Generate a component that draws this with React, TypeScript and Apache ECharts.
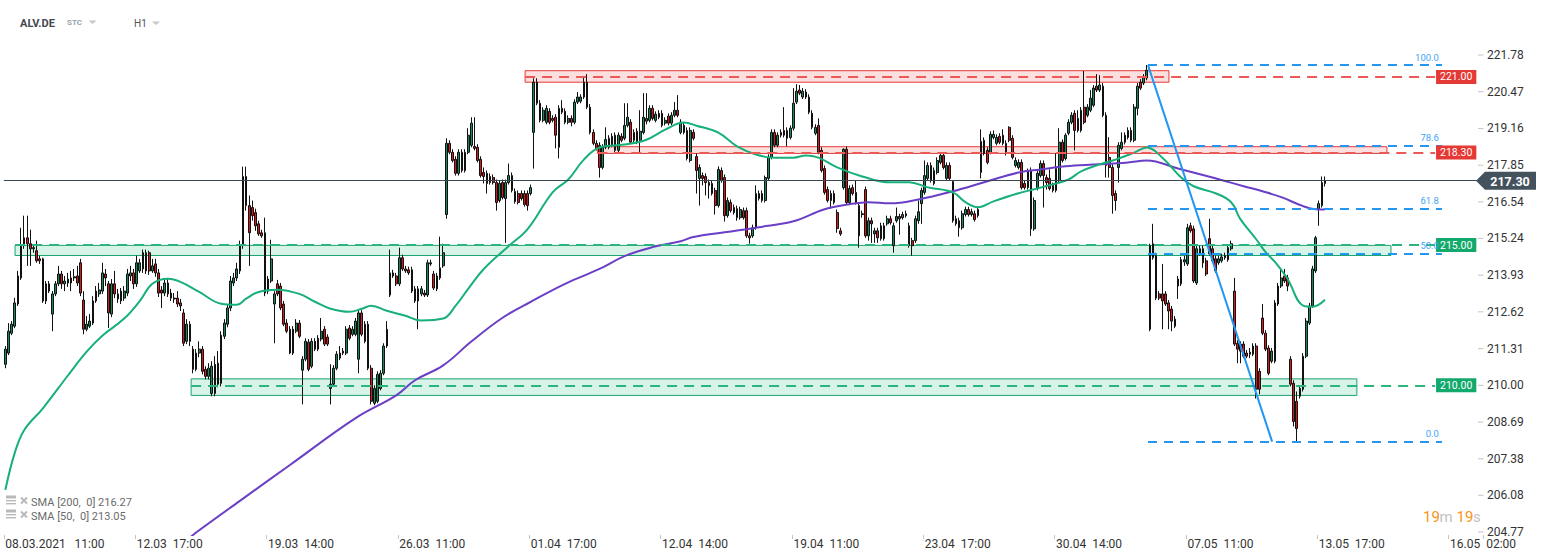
import React, { useEffect, useRef } from 'react';
import * as echarts from 'echarts';

const FONT = 'Roboto, "Liberation Sans", Arial, sans-serif';

// ---- hourly candles [open, close, low, high] (05.03 10:00 -> 13.05 09:00) ----
const ohlc1 = [
  [210.75,211.29,210.61,211.40],[211.15,211.93,211.08,212.22],[211.86,212.18,211.79,212.29],[212.11,212.94,212.04,213.12],
  [212.90,213.90,212.83,214.08],[213.83,214.98,213.76,215.62],[214.98,215.26,214.87,216.05],[215.26,215.05,214.26,216.05],
  [215.05,214.87,214.26,215.55],[214.87,214.91,214.73,215.01],[214.80,214.44,214.37,215.16],[214.51,214.44,214.33,214.62],
  [214.51,213.01,212.94,214.55],[213.01,213.62,212.90,213.72],[213.36,213.62,213.29,213.72],[212.54,213.26,211.93,213.36],
  [213.26,213.62,213.18,213.72],[213.62,213.97,213.54,214.26],[213.97,213.62,213.44,214.08],[213.62,213.72,213.36,213.90],
  [213.65,213.79,213.51,214.01],[213.65,213.83,213.36,214.08],[213.83,213.87,213.72,214.15],[213.90,213.65,213.54,214.26],
  [214.37,213.29,213.18,214.51],[213.04,212.00,211.82,213.36],[212.00,212.18,211.93,212.47],[212.11,212.29,212.04,212.54],
  [212.22,213.01,212.15,213.18],[213.01,213.36,212.94,213.54],[213.26,213.40,213.15,213.65],[213.36,214.01,213.26,214.37],
  [213.97,213.83,213.54,214.15],[213.62,212.58,212.04,213.72],[212.54,213.62,212.43,213.79],[213.62,213.26,213.11,214.08],
  [213.26,213.08,212.94,213.44],[213.01,213.36,212.90,213.47],[213.11,213.36,213.01,213.54],[213.29,213.97,213.18,214.15],
  [213.90,214.01,213.72,214.26],[214.01,213.62,213.44,214.15],[213.62,214.37,213.51,214.62],[214.08,214.37,214.01,214.51],
  [214.73,214.15,214.01,214.84],[214.08,214.73,213.97,214.84],[214.73,214.08,213.94,214.80],[214.08,214.26,214.01,214.51],
  [214.33,214.01,213.87,214.51],[214.01,213.29,213.15,214.15],[213.40,213.29,212.76,213.54],[213.29,213.65,213.18,213.79],
  [213.65,213.26,213.15,213.79],[213.29,213.11,213.01,213.44],[213.11,213.08,212.94,213.29],[213.11,212.90,212.79,213.36],
  [212.94,212.83,212.65,213.08],[212.58,211.50,211.40,212.72],[211.57,212.18,211.47,212.36],[212.18,211.57,211.40,212.29],
  [211.29,210.57,210.43,211.40],[210.57,211.15,210.50,211.29],[211.15,211.29,211.00,211.57],[211.29,210.50,210.39,211.40],
  [210.57,210.32,210.21,210.68],[210.32,210.61,210.21,210.79],[209.71,210.68,209.61,210.86],[209.71,210.75,209.61,211.04],
  [210.04,210.79,209.93,211.22],[210.07,211.79,209.96,211.93],[211.75,212.22,211.65,212.36],[212.18,212.76,212.07,212.90],
  [212.76,213.72,212.65,213.90],[213.65,213.83,213.54,214.01],[213.83,214.15,213.72,214.37],[214.08,214.98,213.97,215.16],
  [214.98,217.45,214.87,217.80],[217.45,216.41,216.23,217.80],[216.41,215.44,214.26,216.77],[216.34,216.05,215.87,216.59],
  [216.16,215.69,215.51,216.30],
];
const ohlc2 = [
  [215.76,215.40,215.33,215.87],[215.44,215.33,215.26,215.55],[215.44,213.29,213.18,215.98],[213.79,213.36,213.26,213.90],
  [213.72,214.51,213.65,215.19],[212.90,213.26,211.50,213.36],[213.62,213.26,213.18,213.76],[213.54,212.76,212.68,213.65],
  [212.90,212.18,212.11,213.01],[212.22,211.93,211.86,212.36],[212.00,211.15,211.11,212.11],[211.15,212.00,211.08,212.11],
  [211.93,212.22,211.86,212.36],[212.22,211.75,211.68,212.33],[210.54,210.93,209.32,211.04],[210.93,211.57,210.86,211.68],
  [211.54,210.57,210.50,211.65],[210.68,211.57,210.61,211.68],[211.57,211.29,211.22,211.68],[211.29,211.68,211.22,211.79],
  [211.65,211.93,211.57,212.40],[212.00,211.47,211.40,212.11],[211.72,211.47,211.40,211.82],[209.89,210.04,209.32,210.75],
  [210.04,210.61,209.96,210.72],[210.61,211.11,210.54,211.22],[210.97,211.15,210.90,211.40],[211.15,211.22,211.08,211.33],
  [211.15,212.00,211.08,212.11],[212.04,211.68,211.61,212.15],[211.82,212.00,211.75,212.11],[211.82,212.29,211.75,212.40],
  [210.93,212.58,210.43,212.68],[212.58,211.82,211.75,212.68],[211.57,212.18,211.50,212.29],[212.18,210.61,210.54,212.29],
  [210.61,209.43,209.32,210.72],[209.36,209.89,209.29,210.00],[209.43,210.39,209.36,210.50],[209.89,210.43,209.82,210.54],
  [210.43,211.40,210.36,211.50],[211.40,212.00,211.33,212.29],[213.22,214.01,213.15,214.84],[213.90,214.01,213.83,214.12],
  [213.90,213.62,213.54,214.01],[213.62,214.55,213.54,214.91],[214.55,214.15,214.08,214.66],[214.15,214.08,214.01,214.26],
  [214.12,214.01,213.94,214.23],[214.12,213.36,213.29,214.23],[213.01,213.44,212.94,213.54],[213.44,213.01,212.00,213.54],
  [213.26,213.44,213.18,213.54],[213.29,213.22,213.15,213.40],[213.22,214.37,213.15,214.48],[214.33,214.37,214.26,214.48],
  [213.97,213.47,213.40,214.08],[213.90,213.44,213.36,214.01],[213.83,214.19,213.76,215.30],[214.26,214.73,214.19,215.05],
];
const ohlc3 = [
  [216.09,218.63,215.94,218.81],[218.63,218.31,218.24,218.74],[218.31,218.02,217.95,218.42],[218.06,217.56,217.48,218.17],
  [217.56,218.31,217.48,218.42],[218.31,217.66,217.59,218.42],[217.66,218.31,217.59,218.42],[218.31,218.92,218.24,219.17],
  [218.56,219.35,218.49,219.56],[218.52,218.45,218.38,219.56],[218.49,218.02,217.95,218.60],[218.06,217.48,217.41,218.17],
  [217.59,217.45,217.20,217.77],[217.56,217.20,216.84,217.66],[217.23,217.45,217.16,217.56],[217.41,217.23,217.16,217.52],
  [217.23,216.52,216.23,217.34],[216.59,217.20,216.52,217.30],[217.23,216.70,216.63,217.34],[216.66,217.23,215.08,217.34],
  [217.23,217.48,217.16,217.91],[217.48,216.95,216.88,217.59],[216.91,216.55,216.48,217.02],[216.84,216.52,216.45,216.95],
  [216.84,216.66,216.59,216.95],[216.84,216.45,216.37,216.95],[216.84,216.41,216.23,216.95],[216.84,217.05,216.77,217.16],
  [219.02,220.81,217.73,220.95],[220.81,220.06,219.99,220.95],[220.06,219.45,219.38,220.17],[219.45,219.81,219.38,219.92],
  [219.38,219.88,219.31,219.99],[219.77,219.38,219.31,219.88],[219.52,219.45,219.38,219.63],[219.56,218.92,218.45,219.67],
  [218.49,219.88,218.09,219.99],[219.88,219.74,219.67,220.17],[219.77,219.38,219.31,219.88],[219.38,219.52,219.31,219.63],
  [219.52,219.38,219.24,219.63],[219.38,220.10,219.31,220.20],[220.10,220.28,220.03,220.46],[220.13,220.28,220.06,220.38],
  [220.28,220.81,220.21,221.03],[220.81,219.92,219.85,221.10],
];
const ohlc4 = [
  [219.92,219.02,218.95,220.03],[219.02,218.63,218.56,219.13],[218.63,218.45,218.38,218.74],[218.56,217.77,217.41,218.67],
  [217.77,218.49,217.70,218.60],[218.49,218.77,218.42,219.20],[218.49,218.81,218.42,218.92],[218.56,218.88,218.49,218.99],
  [218.92,218.38,218.31,219.02],[218.38,218.92,218.31,219.02],[218.88,218.74,218.67,218.99],[218.81,219.27,218.74,220.06],
  [219.27,219.56,219.20,220.06],[219.38,218.67,218.60,219.49],[218.74,219.02,218.67,219.13],[219.06,218.67,218.60,219.17],
  [218.74,219.06,218.31,219.81],[219.02,219.56,218.95,220.42],[219.42,219.52,219.31,220.42],[219.45,219.88,219.38,219.99],
  [219.88,219.52,219.45,219.99],[219.45,219.67,219.38,219.77],[219.56,219.70,219.49,219.81],[219.70,219.27,219.20,219.81],
  [219.35,219.45,219.27,219.56],[219.60,219.35,219.27,219.70],[219.35,219.63,219.27,219.74],[219.63,219.81,219.56,220.10],
  [219.81,219.63,219.56,220.35],[219.02,219.38,218.95,219.49],[219.27,219.02,218.95,219.38],[219.09,218.09,218.02,219.20],
  [218.02,219.09,217.95,219.20],[219.02,218.81,218.74,219.13],[218.16,217.66,216.84,218.27],[217.38,217.77,216.41,217.88],
  [217.48,217.38,217.13,217.59],[217.45,217.23,216.77,217.56],[217.23,217.13,216.66,217.34],[217.20,216.84,216.77,217.30],
  [216.95,216.41,216.09,217.05],[216.41,217.70,216.34,217.81],[217.66,217.30,217.23,217.77],[217.41,216.05,215.84,217.52],
  [216.05,216.59,215.98,216.70],[216.52,216.23,216.16,216.63],[216.16,216.34,216.09,216.45],[216.30,215.98,215.87,216.41],
  [215.98,216.27,215.91,216.37],[216.23,215.98,215.91,216.34],[216.23,215.33,215.26,216.34],[215.33,215.26,215.05,215.44],
  [215.33,215.62,215.26,215.73],[215.62,216.84,215.55,217.13],[216.66,216.84,216.59,216.95],[216.84,216.59,216.52,216.95],
  [216.59,217.41,216.52,217.48],[217.38,218.13,217.30,218.24],[218.13,219.02,218.06,219.13],[219.02,218.56,218.49,219.13],
  [218.56,218.92,218.49,219.02],[218.92,219.02,218.84,219.13],[219.09,218.92,218.84,219.92],[219.09,218.81,218.52,219.20],
  [218.84,219.17,218.77,219.27],[219.17,220.06,219.09,220.60],[220.10,220.49,220.03,220.74],
];
const ohlc5 = [
  [220.53,220.42,220.35,220.71],[220.28,220.49,220.21,220.60],[220.46,220.28,220.21,220.56],[220.28,219.74,219.67,220.38],
  [219.70,219.20,219.13,219.81],[218.99,219.20,218.92,219.31],[219.27,218.31,218.24,219.52],[218.38,217.66,217.59,218.49],
  [217.73,216.88,216.80,217.84],[216.98,216.59,216.52,217.09],[216.59,216.84,216.30,216.95],[216.84,216.52,216.45,216.95],
  [216.16,215.59,215.44,216.27],[215.51,215.40,215.33,215.62],[217.05,218.42,216.98,218.45],
  [218.42,216.52,216.45,218.52],[216.52,217.02,216.45,217.13],[217.05,216.84,216.77,217.16],[216.88,216.52,216.45,217.30],
  [216.41,215.33,214.91,216.52],[216.12,216.09,215.98,216.23],[216.98,215.33,215.26,217.09],[215.33,215.87,215.16,215.98],
  [215.87,215.76,215.08,215.98],[215.40,215.51,215.08,215.62],[215.51,215.26,215.08,215.62],[215.23,215.69,215.16,215.80],
  [215.69,215.23,215.16,215.80],[215.76,215.94,215.69,216.05],[215.94,215.80,215.73,216.05],[214.98,215.69,214.73,215.80],
  [215.87,216.02,215.80,216.34],[216.02,215.94,215.37,216.12],[215.98,216.09,215.91,216.19],[216.12,216.05,215.98,216.23],
  [215.69,214.98,214.91,215.80],[215.16,214.98,214.62,215.26],[215.16,215.94,215.08,216.05],[215.87,216.19,215.76,216.59],
  [216.48,216.95,215.76,217.05],[216.88,217.48,216.80,218.02],[217.38,217.84,217.30,217.95],[217.84,217.30,217.23,217.95],
  [217.66,217.20,217.13,217.77],[217.59,218.02,217.52,218.13],[217.95,218.20,217.88,218.31],[218.20,217.77,217.70,218.31],
  [217.38,217.84,217.30,217.95],[217.84,217.38,217.30,217.95],[217.27,215.87,215.80,217.30],[215.94,215.76,215.69,216.05],
  [215.87,215.62,215.30,215.98],[215.62,216.12,215.55,216.23],[216.09,216.27,216.02,216.37],[216.27,216.09,216.02,216.37],
  [216.09,216.19,216.02,216.30],[216.12,215.91,215.84,216.23],[216.05,216.27,215.98,216.37],
];
const ohlc6 = [
  [217.59,218.70,217.38,219.13],[218.74,218.27,218.20,218.84],[218.38,217.95,217.88,218.49],[218.31,218.95,218.24,219.06],
  [218.84,218.95,218.77,219.09],[218.63,218.84,218.56,218.95],[218.88,218.67,218.60,218.99],[218.63,218.92,218.56,219.13],
  [218.63,218.27,218.20,218.74],[219.20,218.74,218.67,219.24],[218.81,218.13,218.06,218.92],[217.84,218.02,217.77,218.13],
  [217.77,217.95,217.70,218.06],[217.95,217.05,216.98,218.06],[217.20,217.05,216.98,217.30],[217.05,217.66,216.98,217.73],
  [217.66,215.58,215.33,217.77],
  [215.58,216.59,215.51,216.70],[217.02,217.56,216.95,217.66],[217.48,217.91,217.41,218.02],[217.91,217.48,216.34,218.02],
  [217.41,217.23,216.98,217.52],[217.38,217.02,216.95,217.70],[217.13,216.95,216.88,217.23],[216.95,217.73,216.88,218.27],
  [217.30,218.67,217.23,219.17],[218.67,218.02,217.95,218.77],[218.09,218.92,218.02,218.99],[218.99,219.38,218.92,219.49],
  [219.38,219.63,219.31,219.74],[219.70,219.09,218.38,219.81],[219.09,219.52,219.02,219.81],[219.09,219.81,219.02,219.92],
  [219.92,219.38,219.31,221.21],[219.63,219.92,219.56,220.03],[219.81,220.24,219.74,220.53],[219.99,220.60,219.92,220.71],
  [220.67,220.53,220.46,221.10],[220.53,220.71,220.46,221.06],[220.67,219.63,219.56,220.78],[219.63,217.84,217.41,219.74],
  [218.13,217.77,217.41,218.85],[217.77,216.77,216.12,217.88],[216.84,216.59,216.23,216.95],[217.77,218.56,217.23,218.67],
  [218.45,218.67,218.38,219.02],[218.67,218.92,218.59,219.02],[218.84,219.09,218.77,219.20],[219.09,218.74,218.67,219.20],
  [218.74,219.92,218.67,220.03],[219.88,220.67,219.63,220.78],[220.81,220.60,220.53,220.92],[220.78,220.99,220.71,221.10],
  [220.96,221.24,220.88,221.42],
];
const ohlc7 = [
  [212.00,214.98,211.93,215.05],[215.05,214.55,214.48,215.76],[214.62,213.11,213.04,214.73],[213.26,213.11,213.04,213.36],
  [213.26,213.01,212.00,214.33],[213.26,212.90,212.83,213.36],[212.94,212.65,212.00,213.04],[212.72,212.29,211.93,212.83],
  [212.36,212.11,212.04,212.47],[213.79,213.54,213.08,213.90],[213.62,214.48,213.54,214.58],[214.40,214.48,214.26,214.62],
  [214.33,215.62,214.26,215.76],[215.69,215.51,215.44,215.80],[215.58,213.72,213.65,215.69],[213.65,214.87,213.58,214.98],
  [214.69,214.87,214.62,214.98],[214.87,214.37,214.19,214.98],[214.44,213.97,213.90,214.55],[215.23,214.69,214.62,215.94],
  [214.87,214.44,214.37,214.98],[214.51,214.08,214.01,214.62],[214.37,214.51,214.30,214.62],[214.44,214.58,214.37,214.69],
  [214.55,214.62,214.48,214.73],[214.48,214.91,214.41,215.01],[214.87,215.05,214.80,215.16],
  [213.36,211.47,211.40,213.83],[211.50,211.29,210.79,211.61],[211.47,211.22,210.79,211.57],[211.47,211.04,210.97,211.57],
  [211.15,211.04,210.97,211.26],[211.11,211.18,210.97,211.33],[211.11,211.40,211.04,211.50],[211.40,209.86,209.53,211.50],
  [210.50,209.86,209.68,210.61],[212.40,211.86,211.79,212.90],[211.86,211.29,211.22,211.97],[211.33,210.43,210.36,211.43],
  [210.86,211.22,210.79,211.33],[210.86,212.94,210.79,213.04],[212.90,213.54,212.83,213.65],[213.54,213.83,213.47,214.19],
  [213.90,213.72,213.65,214.15],[213.83,213.54,213.36,213.94],[210.93,210.04,209.96,211.04],[210.07,208.71,208.53,210.18],
  [209.43,208.46,207.99,209.78],[209.61,209.89,209.53,210.00],[209.86,211.04,209.78,211.15],[211.04,212.29,210.97,212.40],
  [212.22,212.83,212.15,212.94],[212.83,214.15,212.76,214.26],[214.08,215.26,214.01,215.33],[216.30,216.48,215.69,216.59],
  [216.41,217.23,216.34,217.45],[217.20,217.30,217.09,217.45],
];
const candles = [...ohlc1, ...ohlc2, ...ohlc3, ...ohlc4, ...ohlc5, ...ohlc6, ...ohlc7];

// ---- moving averages, [candle index, value] ----
const sma50 = [
  [0,206.27],[3,207.59],[6,208.40],[12,209.18],[20,210.35],[26,211.20],[31,211.77],[38,212.38],[43,213.01],[47,213.62],
  [52,213.80],[56,213.69],[62,213.33],[69,212.91],[74,212.87],[77,213.09],[81,213.33],[87,213.41],[94,213.26],[99,212.98],
  [104,212.73],[110,212.62],[114,212.73],[117,212.84],[122,212.66],[128,212.48],[133,212.31],[140,212.38],[144,212.84],
  [148,213.44],[153,214.15],[161,214.97],[167,215.57],[175,216.88],[180,217.34],[185,218.05],[190,218.48],[198,218.59],
  [205,218.76],[211,219.12],[217,219.37],[221,219.26],[228,219.01],[234,218.52],[240,218.23],[246,218.12],[252,218.12],
  [256,218.20],[260,218.12],[266,217.77],[274,217.45],[283,217.24],[289,217.24],[295,217.06],[303,216.88],[307,216.53],
  [311,216.35],[316,216.56],[324,216.85],[329,216.99],[335,217.17],[340,217.34],[344,217.63],[350,217.88],[355,218.05],
  [361,218.30],[365,218.48],[370,218.12],[376,217.41],[380,217.10],[387,216.85],[392,216.53],[395,215.92],[400,215.21],
  [403,214.75],[406,214.40],[410,213.80],[415,212.84],[418,212.80],[422,213.05],
];
const sma200 = [
  [59,204.57],[61,204.75],[75,205.88],[91,207.16],[112,208.83],[125,209.64],[131,210.18],[140,210.71],[149,211.56],
  [159,212.41],[168,212.98],[179,213.62],[190,214.15],[198,214.61],[207,214.93],[216,215.14],[220,215.29],[230,215.46],
  [241,215.64],[252,215.85],[262,216.28],[270,216.46],[276,216.53],[283,216.49],[292,216.63],[303,216.92],[313,217.24],
  [324,217.59],[331,217.70],[339,217.81],[350,217.88],[359,217.95],[365,218.02],[375,217.73],[386,217.41],[396,217.10],
  [402,216.92],[408,216.71],[415,216.39],[419,216.28],[422,216.27],
];

// ---- axes ----
const xLabels = ['08.03.2021   11:00', '12.03  17:00', '19.03  14:00', '26.03  11:00', '01.04  17:00', '12.04  14:00',
  '19.04  11:00', '23.04  17:00', '30.04  14:00', '07.05  11:00', '13.05  17:00', '16.05  02:00'];
const LABEL_EVERY = 42;
const SLOT_COUNT = 473;
const yTicks = [221.78, 220.47, 219.16, 217.85, 216.54, 215.24, 213.93, 212.62, 211.31, 210.0, 208.69, 207.38, 206.08, 204.77];
const Y_MIN = 204.662;
const Y_MAX = 223.742;

// ---- drawn levels & zones ----
const lastPrice = 217.3;
const levelPrices = [221.0, 218.3, 215.0, 210.0];
const levelKinds = ['red', 'red', 'green', 'green'];
const zoneStart = [166.2, 189.3, 3.1, 59.4];
const zoneEnd = [372.1, 441.8, 443.1, 432.2];
const zoneLow = [220.81, 218.27, 214.63, 209.64];
const zoneHigh = [221.22, 218.51, 214.99, 210.23];
const LEVEL_END = 457.2;

const fibHigh = 221.42;
const fibLow = 207.99;
const fibRatios = [1, 0.786, 0.618, 0.5, 0];
const fibLabels = ['100.0', '78.6', '61.8', '50.0', '0.0'];
const FIB_START = 365.4;
const FIB_LOW_AT = 405.1;
const FIB_END = 459.4;

const smaLegend = ['SMA [200,  0] 216.27', 'SMA [50,  0] 213.05'];

const RED = '#e53935';
const GREEN = '#13a86c';
const BLUE = '#2196f3';
const UP = '#118a5c';
const DOWN = '#d9161d';

function overlay(z: number, extra: any) {
  return { type: 'line', xAxisIndex: 1, yAxisIndex: 0, data: [], z, silent: true, showSymbol: false, ...extra };
}

function buildOption() {
  const categories = Array.from({ length: SLOT_COUNT }, (_, i) => String(i));
  const series: any[] = [];

  series.push(overlay(1, {
    markArea: {
      silent: true,
      data: zoneStart.map((s, i) => [
        {
          xAxis: s, yAxis: zoneLow[i],
          itemStyle: {
            color: levelKinds[i] === 'red' ? 'rgba(239,83,80,0.18)' : 'rgba(38,190,130,0.18)',
            borderColor: levelKinds[i] === 'red' ? RED : '#1aa56f', borderWidth: 1,
          },
        },
        { xAxis: zoneEnd[i], yAxis: zoneHigh[i] },
      ]),
    },
  }));

  levelPrices.forEach((p, i) => {
    const red = levelKinds[i] === 'red';
    series.push(overlay(1, {
      markLine: {
        silent: true, symbol: ['none', 'none'],
        lineStyle: { color: red ? '#ec5a57' : '#2bb47b', width: 2, type: [10, 7] },
        label: {
          show: true, position: 'end', distance: 1, formatter: p.toFixed(2),
          backgroundColor: red ? RED : GREEN, color: '#ffffff', fontSize: 10.5, fontFamily: FONT,
          padding: [2, 4, 1, 4], lineHeight: 11,
        },
        data: [[{ coord: [zoneStart[i], p] }, { coord: [LEVEL_END, p] }]],
      },
    }));
  });

  series.push(overlay(1, {
    markLine: {
      silent: true, symbol: ['none', 'none'],
      lineStyle: { color: '#3b4752', width: 1, type: 'solid' },
      label: { show: false },
      data: [{ yAxis: lastPrice }],
    },
  }));

  series.push({
    type: 'candlestick', xAxisIndex: 0, yAxisIndex: 0, data: candles, barWidth: 2.2, z: 2,
    itemStyle: { color: UP, color0: DOWN, borderColor: '#111111', borderColor0: '#111111', borderWidth: 1 },
  });

  series.push({
    type: 'line', xAxisIndex: 1, yAxisIndex: 0, data: sma200, smooth: 0.4, showSymbol: false, z: 3, silent: true,
    lineStyle: { color: '#6a3fc6', width: 2 },
  });
  series.push({
    type: 'line', xAxisIndex: 1, yAxisIndex: 0, data: sma50, smooth: 0.4, showSymbol: false, z: 3, silent: true,
    lineStyle: { color: '#17b07a', width: 2 },
  });

  fibRatios.forEach((r, i) => {
    const p = fibLow + r * (fibHigh - fibLow);
    series.push(overlay(4, {
      markLine: {
        silent: true, symbol: ['none', 'none'],
        lineStyle: { color: BLUE, width: 2, type: [9, 7] },
        label: { show: true, position: 'insideEndTop', distance: 3, formatter: fibLabels[i], color: '#42a5f5', fontSize: 9.5, fontFamily: FONT },
        data: [[{ coord: [FIB_START, p] }, { coord: [FIB_END, p] }]],
      },
    }));
  });
  series.push(overlay(4, {
    markLine: {
      silent: true, symbol: ['none', 'none'],
      lineStyle: { color: BLUE, width: 2, type: 'solid' },
      label: { show: false },
      data: [[{ coord: [FIB_START, fibHigh] }, { coord: [FIB_LOW_AT, fibLow] }]],
    },
  }));

  return {
    animation: false,
    backgroundColor: '#ffffff',
    grid: { left: 3.8, right: 63.1, top: 0, bottom: 25 },
    xAxis: [
      {
        type: 'category', data: categories, boundaryGap: true,
        axisLine: { show: false },
        splitLine: { show: false },
        axisTick: { show: true, interval: LABEL_EVERY - 1, length: 4, lineStyle: { color: '#c4c4c4' } },
        axisLabel: {
          interval: LABEL_EVERY - 1, align: 'left', margin: 3, fontSize: 12, lineHeight: 12, color: '#333333', fontFamily: FONT,
          formatter: (_v: string, i: number) => (i % LABEL_EVERY === 0 ? xLabels[i / LABEL_EVERY] || '' : ''),
        },
      },
      { type: 'value', min: -0.5, max: SLOT_COUNT - 0.5, show: false },
    ],
    yAxis: {
      type: 'value', position: 'right', min: Y_MIN, max: Y_MAX,
      axisLine: { show: false }, splitLine: { show: false },
      axisTick: { show: false },
      axisLabel: {
        customValues: yTicks, formatter: (v: number) => v.toFixed(2), margin: 4,
        fontSize: 12, lineHeight: 11, color: '#333333', fontFamily: FONT,
      },
    },
    series,
  };
}

function txt(x: number, y: number, text: string, style: any) {
  return {
    type: 'text', x, y, z: 100, silent: true,
    style: { text, fontFamily: FONT, verticalAlign: 'middle', align: 'left', ...style },
  };
}

function buildGraphic(yTag: number, tickYs: number[]) {
  const g: any[] = [];
  // y-axis tick marks
  tickYs.forEach((y) => {
    g.push({ type: 'line', z: 50, silent: true, shape: { x1: 1478, y1: y, x2: 1483.5, y2: y }, style: { stroke: '#c4c4c4', lineWidth: 1 } });
  });
  // header
  g.push(txt(20, 23, 'ALV.DE', { fontSize: 11, fontWeight: 'bold', fill: '#3f4850' }));
  g.push(txt(67, 22.5, 'STC', { fontSize: 8, fontWeight: 'bold', fill: '#9aa3ad' }));
  g.push({ type: 'polygon', z: 100, silent: true, shape: { points: [[88.5, 20.5], [96.5, 20.5], [92.5, 24]] }, style: { fill: '#c6c6c6' } });
  g.push(txt(134, 23.5, 'H1', { fontSize: 10, fill: '#555555' }));
  g.push({ type: 'polygon', z: 100, silent: true, shape: { points: [[152, 21.5], [160, 21.5], [156, 25]] }, style: { fill: '#c6c6c6' } });

  // indicator legend
  smaLegend.forEach((t, i) => {
    const y = 502.5 + i * 14;
    g.push({ type: 'rect', z: 100, silent: true, shape: { x: 6, y: y - 7, width: 10, height: 3 }, style: { fill: '#b9b9b9' } });
    g.push({ type: 'rect', z: 100, silent: true, shape: { x: 6, y: y - 2.5, width: 10, height: 1.4 }, style: { fill: '#b9b9b9' } });
    g.push({ type: 'rect', z: 100, silent: true, shape: { x: 6, y: y + 0.5, width: 10, height: 1.4 }, style: { fill: '#b9b9b9' } });
    g.push({ type: 'line', z: 100, silent: true, shape: { x1: 21, y1: y - 5, x2: 27, y2: y + 1 }, style: { stroke: '#b9b9b9', lineWidth: 2 } });
    g.push({ type: 'line', z: 100, silent: true, shape: { x1: 27, y1: y - 5, x2: 21, y2: y + 1 }, style: { stroke: '#b9b9b9', lineWidth: 2 } });
    g.push(txt(31, y, t, { fontSize: 11, fill: '#6b6b6b' }));
  });

  // countdown
  g.push(txt(1423, 517, '19', { fontSize: 15, fill: '#f7941d' }));
  g.push(txt(1439.5, 517, 'm', { fontSize: 15, fill: '#c2c2c2' }));
  g.push(txt(1456.5, 517, '19', { fontSize: 15, fill: '#f7941d' }));
  g.push(txt(1473, 517, 's', { fontSize: 15, fill: '#c2c2c2' }));

  // current price tag
  g.push({
    type: 'polygon', z: 100, silent: true,
    shape: { points: [[1476, yTag], [1485, yTag - 9], [1536, yTag - 9], [1536, yTag + 9], [1485, yTag + 9]] },
    style: { fill: '#44525e' },
  });
  g.push(txt(1510, yTag + 0.5, lastPrice.toFixed(2), { fontSize: 12.5, fontWeight: 'bold', fill: '#ffffff', align: 'center' }));
  return g;
}

export default function App() {
  const ref = useRef<HTMLDivElement>(null);
  useEffect(() => {
    document.body.style.margin = '0';
    const chart = echarts.init(ref.current as HTMLDivElement, null, { renderer: 'svg', width: 1546, height: 560 });
    chart.setOption(buildOption() as any);
    const toY = (v: number) => chart.convertToPixel({ yAxisIndex: 0 } as any, v) as unknown as number;
    chart.setOption({ graphic: buildGraphic(toY(lastPrice), yTicks.map(toY)) } as any);
    return () => chart.dispose();
  }, []);
  return (
    <div
      ref={ref}
      style={{ position: 'absolute', left: 0, top: 0, width: 1546, height: 560, background: '#ffffff' }}
    />
  );
}
